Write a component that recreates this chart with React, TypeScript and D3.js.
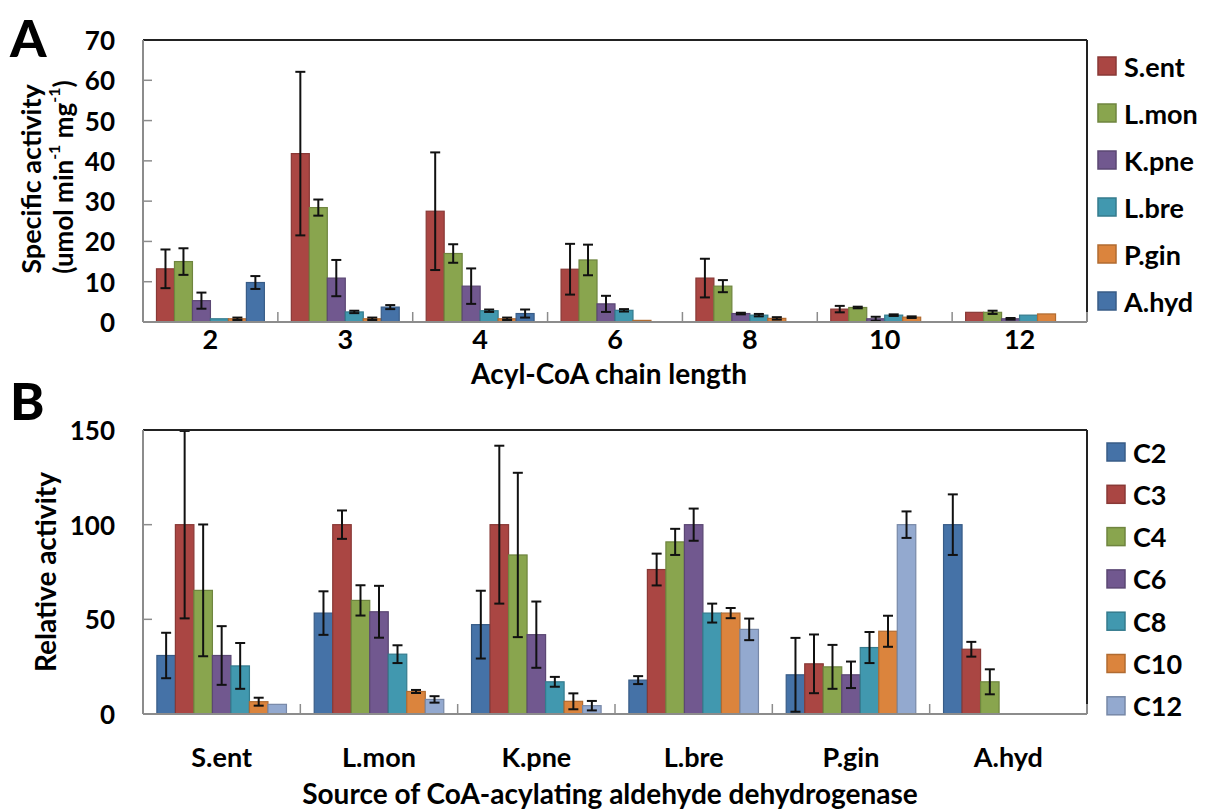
import React from "react";
import * as d3 from "d3";

// ---------- Panel A data ----------
const chainLengths = ["2", "3", "4", "6", "8", "10", "12"];
const enzymesA = ["S.ent", "L.mon", "K.pne", "L.bre", "P.gin", "A.hyd"];
const sentA = [13.2, 41.8, 27.5, 13.1, 10.9, 3.2, 2.4];
const sentAErr = [4.8, 20.3, 14.6, 6.3, 4.8, 0.8, 0];
const lmonA = [15.0, 28.4, 17.0, 15.4, 8.9, 3.6, 2.4];
const lmonAErr = [3.3, 2.0, 2.3, 3.8, 1.5, 0.2, 0.4];
const kpneA = [5.3, 10.9, 8.9, 4.5, 2.1, 0.8, 0.8];
const kpneAErr = [2.0, 4.5, 4.4, 2.0, 0.2, 0.5, 0.2];
const lbreA = [0.8, 2.5, 2.8, 2.9, 1.7, 1.7, 1.7];
const lbreAErr = [0, 0.3, 0.3, 0.3, 0.3, 0.2, 0];
const pginA = [0.8, 0.8, 0.8, 0.4, 0.9, 1.2, 2.0];
const pginAErr = [0.3, 0.3, 0.3, 0, 0.3, 0.2, 0];
const ahydA = [9.8, 3.7, 2.1, 0, 0, 0, 0];
const ahydAErr = [1.6, 0.5, 1.0, 0, 0, 0, 0];
const yTicksA = [0, 10, 20, 30, 40, 50, 60, 70];

// ---------- Panel B data ----------
const sources = ["S.ent", "L.mon", "K.pne", "L.bre", "P.gin", "A.hyd"];
const chainsB = ["C2", "C3", "C4", "C6", "C8", "C10", "C12"];
const c2B = [30.9, 53.3, 47.2, 17.9, 20.7, 100];
const c2BErr = [12, 11.5, 17.9, 2.1, 19.5, 16];
const c3B = [100, 100, 100, 76.3, 26.5, 34.2];
const c3BErr = [49.5, 7.5, 41.7, 8.4, 15.5, 3.9];
const c4B = [65.3, 60, 84, 90.9, 24.9, 17];
const c4BErr = [34.8, 8, 43.4, 6.9, 11.6, 6.6];
const c6B = [30.9, 54, 41.9, 100, 20.7, 0];
const c6BErr = [15.5, 13.7, 17.5, 8.5, 7, 0];
const c8B = [25.4, 31.6, 17, 53.3, 35.1, 0];
const c8BErr = [12.1, 4.7, 2.6, 5, 8.2, 0];
const c10B = [6.5, 11.9, 6.7, 53.3, 43.7, 0];
const c10BErr = [2.1, 0.8, 4.2, 2.7, 8.2, 0];
const c12B = [5.1, 7.7, 4.4, 44.7, 100, 0];
const c12BErr = [0, 1.7, 2.5, 5.7, 7, 0];
const yTicksB = [0, 50, 100, 150];

const RED = "#AA4643";
const GREEN = "#89A54E";
const PURPLE = "#71588F";
const CYAN = "#4198AF";
const ORANGE = "#DB843D";
const BLUE = "#4572A7";
const LIGHTBLUE = "#93A9CF";

const colorsA = [RED, GREEN, PURPLE, CYAN, ORANGE, BLUE];
const colorsB = [BLUE, RED, GREEN, PURPLE, CYAN, ORANGE, LIGHTBLUE];

const seriesA = [
  { vals: sentA, errs: sentAErr },
  { vals: lmonA, errs: lmonAErr },
  { vals: kpneA, errs: kpneAErr },
  { vals: lbreA, errs: lbreAErr },
  { vals: pginA, errs: pginAErr },
  { vals: ahydA, errs: ahydAErr },
];
const seriesB = [
  { vals: c2B, errs: c2BErr },
  { vals: c3B, errs: c3BErr },
  { vals: c4B, errs: c4BErr },
  { vals: c6B, errs: c6BErr },
  { vals: c8B, errs: c8BErr },
  { vals: c10B, errs: c10BErr },
  { vals: c12B, errs: c12BErr },
];

const FONT = "Lato, 'Open Sans', sans-serif";

type PanelProps = {
  cats: string[];
  series: { vals: number[]; errs: number[] }[];
  names: string[];
  colors: string[];
  yMax: number;
  yTicks: number[];
  top: number;
  bottom: number;
  labelOffset: number;
  legendX: number;
  legendY0: number;
  legendStep: number;
};

function Panel(p: PanelProps) {
  const left = 143;
  const right = 1087;
  const x0 = d3.scaleBand<string>().domain(p.cats).range([left, right]).paddingInner(0).paddingOuter(0);
  const n = p.series.length;
  const gw = x0.bandwidth();
  const barW = gw / (n + 1.5);
  const x1 = d3
    .scaleBand<number>()
    .domain(d3.range(n))
    .range([0.75 * barW, 0.75 * barW + n * barW])
    .padding(0);
  const y = d3.scaleLinear().domain([0, p.yMax]).range([p.bottom, p.top]);
  const gridGray = "#8c8c8c";
  return (
    <g>
      {/* bars */}
      {p.series.map((s, si) =>
        p.cats.map((c, ci) => {
          const v = s.vals[ci];
          if (!v) return null;
          const bx = (x0(c) as number) + (x1(si) as number);
          return (
            <rect
              key={`b${si}-${ci}`}
              x={bx}
              y={y(v)}
              width={x1.bandwidth()}
              height={p.bottom - y(v)}
              fill={p.colors[si]}
              stroke={d3.color(p.colors[si])!.darker(0.6).formatHex()}
              strokeWidth={1.2}
            />
          );
        })
      )}
      {/* error bars */}
      {p.series.map((s, si) =>
        p.cats.map((c, ci) => {
          const v = s.vals[ci];
          const e = s.errs[ci];
          if (!e) return null;
          const cx = (x0(c) as number) + (x1(si) as number) + x1.bandwidth() / 2;
          const yt = y(Math.min(v + e, p.yMax));
          const yb = y(Math.max(v - e, 0));
          return (
            <g key={`e${si}-${ci}`} stroke="#111" strokeWidth={2}>
              <line x1={cx} x2={cx} y1={yt} y2={yb} />
              <line x1={cx - 5} x2={cx + 5} y1={yt} y2={yt} />
              <line x1={cx - 5} x2={cx + 5} y1={yb} y2={yb} />
            </g>
          );
        })
      )}
      {/* frame */}
      <line x1={left} x2={right} y1={p.top} y2={p.top} stroke="#222" strokeWidth={2} />
      <line x1={right} x2={right} y1={p.top} y2={p.bottom} stroke="#222" strokeWidth={2} />
      <line x1={left} x2={left} y1={p.top} y2={p.bottom} stroke={gridGray} strokeWidth={2} />
      <line x1={left} x2={right} y1={p.bottom} y2={p.bottom} stroke={gridGray} strokeWidth={2} />
      {/* y ticks */}
      {p.yTicks.map((t) => (
        <g key={`yt${t}`}>
          {t > 0 && t < p.yMax && (
            <line x1={left} x2={left + 9} y1={y(t)} y2={y(t)} stroke={gridGray} strokeWidth={1.5} />
          )}
          <text
            x={115}
            y={y(t)}
            textAnchor="end"
            dominantBaseline="central"
            fontFamily={FONT}
            fontWeight={700}
            fontSize={26}
            fill="#000"
          >
            {t}
          </text>
        </g>
      ))}
      {/* x ticks at group boundaries */}
      {p.cats.slice(1).map((c) => (
        <line
          key={`xt${c}`}
          x1={x0(c) as number}
          x2={x0(c) as number}
          y1={p.bottom}
          y2={p.bottom - 10}
          stroke={gridGray}
          strokeWidth={1.5}
        />
      ))}
      <line x1={right} x2={right} y1={p.bottom} y2={p.bottom - 10} stroke={gridGray} strokeWidth={2} />
      {/* x labels */}
      {p.cats.map((c) => (
        <text
          key={`xl${c}`}
          x={(x0(c) as number) + gw / 2}
          y={p.bottom + p.labelOffset}
          textAnchor="middle"
          dominantBaseline="central"
          fontFamily={FONT}
          fontWeight={700}
          fontSize={27}
          fill="#000"
        >
          {c}
        </text>
      ))}
      {/* legend */}
      {p.names.map((nm, i) => (
        <g key={`lg${nm}`} transform={`translate(${p.legendX},${p.legendY0 + i * p.legendStep})`}>
          <rect
            x={0}
            y={-9}
            width={18}
            height={18}
            fill={p.colors[i]}
            stroke={d3.color(p.colors[i])!.darker(0.6).formatHex()}
            strokeWidth={1.5}
          />
          <text
            x={26}
            y={0}
            dominantBaseline="central"
            fontFamily={FONT}
            fontWeight={700}
            fontSize={27}
            fill="#000"
          >
            {nm}
          </text>
        </g>
      ))}
    </g>
  );
}

export default function App() {
  return (
    <svg
      width={1206}
      height={811}
      style={{ position: "absolute", left: 0, top: 0, background: "#fff" }}
    >
      <rect x={0} y={0} width={1206} height={811} fill="#fff" />
      <text x={10} y={57} fontFamily={FONT} fontWeight={900} fontSize={52} fill="#000">
        A
      </text>
      <text x={10} y={420} fontFamily={FONT} fontWeight={900} fontSize={52} fill="#000">
        B
      </text>
      <Panel
        cats={chainLengths}
        series={seriesA}
        names={enzymesA}
        colors={colorsA}
        yMax={70}
        yTicks={yTicksA}
        top={40}
        bottom={322}
        labelOffset={16}
        legendX={1098}
        legendY0={66}
        legendStep={47}
      />
      <Panel
        cats={sources}
        series={seriesB}
        names={chainsB}
        colors={colorsB}
        yMax={150}
        yTicks={yTicksB}
        top={430}
        bottom={714}
        labelOffset={42}
        legendX={1107}
        legendY0={452}
        legendStep={42.3}
      />
      {/* axis titles */}
      <text
        transform="translate(30,179) rotate(-90)"
        textAnchor="middle"
        dominantBaseline="central"
        fontFamily={FONT}
        fontWeight={700}
        fontSize={27}
      >
        Specific activity
      </text>
      <text
        transform="translate(63,177) rotate(-90)"
        textAnchor="middle"
        dominantBaseline="central"
        fontFamily={FONT}
        fontWeight={700}
        fontSize={26}
      >
        (umol min
        <tspan baselineShift="super" fontSize={16}>-1</tspan> mg
        <tspan baselineShift="super" fontSize={16}>-1</tspan>)
      </text>
      <text
        transform="translate(45,572) rotate(-90)"
        textAnchor="middle"
        dominantBaseline="central"
        fontFamily={FONT}
        fontWeight={700}
        fontSize={28}
      >
        Relative activity
      </text>
      <text
        x={609}
        y={373}
        textAnchor="middle"
        dominantBaseline="central"
        fontFamily={FONT}
        fontWeight={700}
        fontSize={28}
      >
        Acyl-CoA chain length
      </text>
      <text
        x={610}
        y={804}
        textAnchor="middle"
        fontFamily={FONT}
        fontWeight={700}
        fontSize={28}
      >
        Source of CoA-acylating aldehyde dehydrogenase
      </text>
    </svg>
  );
}
